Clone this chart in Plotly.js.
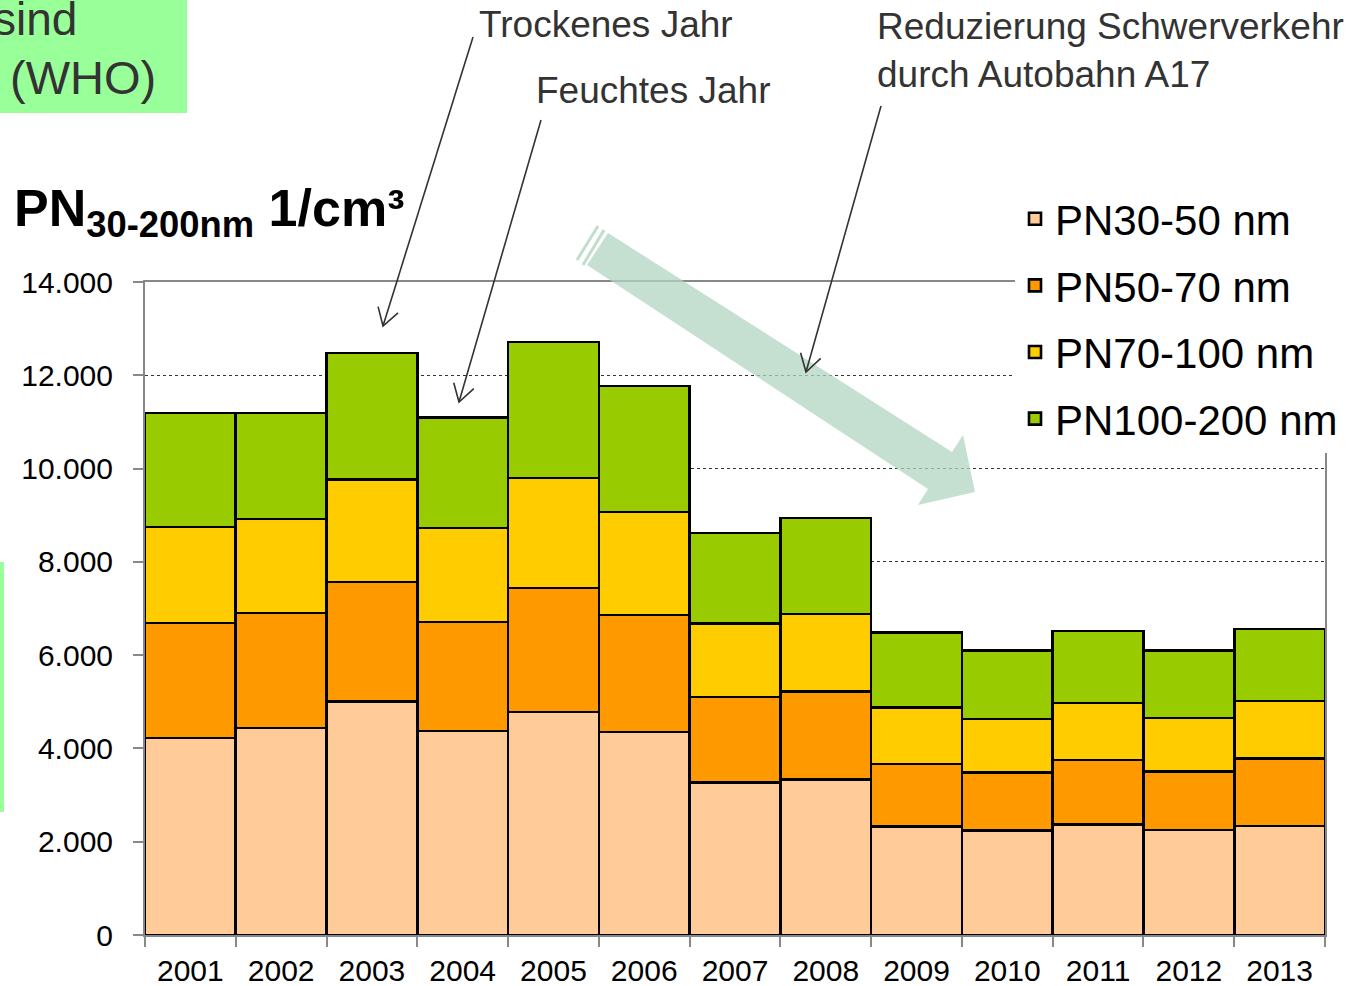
<!DOCTYPE html>
<html>
<head>
<meta charset="utf-8">
<script src="https://cdn.plot.ly/plotly-3.0.1.min.js"></script>
<style>html,body{margin:0;padding:0;background:#fff;}#chart{width:1356px;height:986px;}</style>
</head>
<body>
<div id="chart"></div>
<script>
// ---- data ----
const years = ["2001","2002","2003","2004","2005","2006","2007","2008","2009","2010","2011","2012","2013"];
const pn30_50   = [4220, 4440, 5000, 4370, 4780, 4350, 3270, 3340, 2320, 2240, 2370, 2250, 2340];
const pn50_70   = [2470, 2460, 2570, 2340, 2660, 2510, 1830, 1880, 1350, 1250, 1380, 1260, 1440];
const pn70_100  = [2060, 2020, 2190, 2020, 2360, 2210, 1580, 1660, 1210, 1140, 1220, 1140, 1240];
const pn100_200 = [2440, 2270, 2720, 2360, 2910, 2700, 1940, 2060, 1610, 1470, 1550, 1450, 1540];
const seriesNames = ["PN30-50 nm", "PN50-70 nm", "PN70-100 nm", "PN100-200 nm"];
const seriesColors = ["#FFCC99", "#FF9900", "#FFCC00", "#99CC00"];
const yTicks = [0, 2000, 4000, 6000, 8000, 10000, 12000, 14000];

// ---- layout helpers (pixel -> paper) ----
const L = 145, R = 1325, T = 282, B = 935;
const px = x => (x - L) / (R - L);
const py = y => (B - y) / (B - T);
const FONT = "Liberation Sans, Arial, sans-serif";

const seriesData = [pn30_50, pn50_70, pn70_100, pn100_200];
const traces = seriesData.map((vals, i) => ({
  type: "bar",
  x: years,
  y: vals,
  name: seriesNames[i],
  legendgroup: "g" + i,
  marker: { color: seriesColors[i], line: { color: "#000", width: 2.6 } },
  hoverinfo: "x+y+name"
}));

function openArrow(x0, y0, x1, y1) {
  const dx = x1 - x0, dy = y1 - y0, len = Math.hypot(dx, dy);
  const ux = dx / len, uy = dy / len, a = 0.55, hl = 20;
  const w1x = x1 - hl * (ux * Math.cos(a) - uy * Math.sin(a));
  const w1y = y1 - hl * (uy * Math.cos(a) + ux * Math.sin(a));
  const w2x = x1 - hl * (ux * Math.cos(-a) - uy * Math.sin(-a));
  const w2y = y1 - hl * (uy * Math.cos(-a) + ux * Math.sin(-a));
  const line = { color: "#333", width: 1.6 };
  return [
    { type: "line", xref: "paper", yref: "paper", x0: px(x0), y0: py(y0), x1: px(x1), y1: py(y1), line, layer: "above" },
    { type: "path", xref: "paper", yref: "paper", layer: "above", line,
      path: `M${px(w1x)},${py(w1y)} L${px(x1)},${py(y1)} L${px(w2x)},${py(w2y)}` }
  ];
}

function polyPath(pts) {
  return pts.map((p, i) => (i ? "L" : "M") + px(p[0]) + "," + py(p[1])).join(" ") + " Z";
}

const bigArrow = [[608,233],[952,452],[963,435],[975,492],[918,505],[928,489],[587,265]];

const shapes = [
  // green boxes (cut-off slide elements)
  { type: "rect", xref: "paper", yref: "paper", x0: px(-10), x1: px(187), y0: py(113), y1: py(-10), fillcolor: "#99FF99", line: { width: 0 }, layer: "below" },
  { type: "rect", xref: "paper", yref: "paper", x0: px(-10), x1: px(4), y0: py(812), y1: py(562), fillcolor: "#99FF99", line: { width: 0 }, layer: "below" },
  // big trend arrow
  { type: "path", xref: "paper", yref: "paper", layer: "above", path: polyPath(bigArrow),
    fillcolor: "rgba(178,214,193,0.75)", line: { width: 0 } },
  { type: "line", xref: "paper", yref: "paper", layer: "above", x0: px(577), y0: py(260), x1: px(598), y1: py(226), line: { color: "rgba(178,214,193,0.8)", width: 3 } },
  { type: "line", xref: "paper", yref: "paper", layer: "above", x0: px(583), y0: py(265), x1: px(604), y1: py(230), line: { color: "rgba(178,214,193,0.8)", width: 3 } },
  ...openArrow(473, 37, 383, 326),
  ...openArrow(541, 120, 459, 402),
  ...openArrow(881, 106, 806, 372)
];

const annFont = { family: FONT, size: 37, color: "#333" };
const annotations = [
  { xref: "paper", yref: "paper", x: px(12), y: py(212), xanchor: "left", yanchor: "middle", showarrow: false,
    text: "<b>PN<sub>30-200nm</sub> 1/cm³</b>", font: { family: FONT, size: 52, color: "#000" } },
  { xref: "paper", yref: "paper", x: px(79), y: py(19), xanchor: "right", yanchor: "middle", showarrow: false,
    text: "sind", font: { family: FONT, size: 46, color: "#333" } },
  { xref: "paper", yref: "paper", x: px(8), y: py(77), xanchor: "left", yanchor: "middle", showarrow: false,
    text: "(WHO)", font: { family: FONT, size: 47, color: "#333" } },
  { xref: "paper", yref: "paper", x: px(477), y: py(24), xanchor: "left", yanchor: "middle", showarrow: false,
    text: "Trockenes Jahr", font: annFont },
  { xref: "paper", yref: "paper", x: px(534), y: py(90), xanchor: "left", yanchor: "middle", showarrow: false,
    text: "Feuchtes Jahr", font: annFont },
  { xref: "paper", yref: "paper", x: px(875), y: py(51), xanchor: "left", yanchor: "middle", showarrow: false, align: "left",
    text: "Reduzierung Schwerverkehr<br>durch Autobahn A17", font: annFont }
];

const layout = {
  width: 1356, height: 986,
  margin: { l: L, r: 1356 - R, t: T, b: 986 - B, pad: 0 },
  paper_bgcolor: "#fff", plot_bgcolor: "#fff",
  separators: ",.",
  barmode: "stack", bargap: 0,
  font: { family: FONT, color: "#000" },
  showlegend: true,
  legend: {
    x: px(1015), y: py(185), xanchor: "left", yanchor: "top",
    bgcolor: "#fff", borderwidth: 0,
    font: { family: FONT, size: 42, color: "#000" },
    traceorder: "grouped", tracegroupgap: 9
  },
  xaxis: {
    type: "category", tickson: "boundaries", ticks: "outside", ticklen: 10, tickcolor: "#888", tickwidth: 2,
    showline: true, linecolor: "#888", linewidth: 2, mirror: true, automargin: false,
    showgrid: false, tickfont: { family: FONT, size: 30, color: "#000" }, ticklabelstandoff: 8, fixedrange: true
  },
  yaxis: {
    range: [0, 14000], tickvals: yTicks, tickformat: ",d", automargin: false,
    ticks: "outside", ticklen: 10, tickcolor: "#888", tickwidth: 2,
    showline: true, linecolor: "#888", linewidth: 2, mirror: true,
    showgrid: true, gridcolor: "#333", gridwidth: 1, griddash: "dot", zeroline: false,
    tickfont: { family: FONT, size: 30, color: "#000" }, ticklabelstandoff: 14, fixedrange: true
  },
  shapes, annotations
};

Plotly.newPlot("chart", traces, layout, { displayModeBar: false, staticPlot: true });
</script>
</body>
</html>
